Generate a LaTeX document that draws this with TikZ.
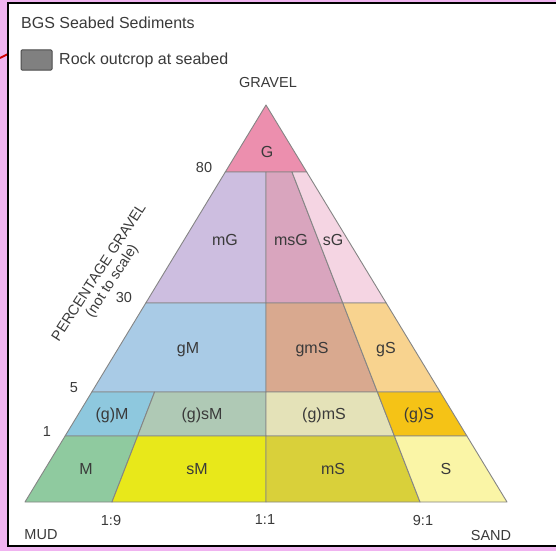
\documentclass[tikz,border=0pt]{standalone}
\usepackage{fontspec}
\setmainfont{Liberation Sans}

\definecolor{mappink}{HTML}{F0B4F0}
\definecolor{inkgray}{HTML}{3A3A3A}
\definecolor{edgegray}{HTML}{858585}
\definecolor{rockgray}{HTML}{808080}
\definecolor{cG}{HTML}{EC8FAE}
\definecolor{cmG}{HTML}{CDBEE0}
\definecolor{cmsG}{HTML}{D9A5BE}
\definecolor{csG}{HTML}{F5D5E3}
\definecolor{cgM}{HTML}{A9CBE6}
\definecolor{cgmS}{HTML}{D9A98F}
\definecolor{cgS}{HTML}{F8D38F}
\definecolor{cpgM}{HTML}{8EC8DE}
\definecolor{cpgsM}{HTML}{AFC9B5}
\definecolor{cpgmS}{HTML}{E4E2B8}
\definecolor{cpgS}{HTML}{F5C316}
\definecolor{cM}{HTML}{8FCA9F}
\definecolor{csM}{HTML}{E8E81A}
\definecolor{cmS}{HTML}{D9D03A}
\definecolor{cS}{HTML}{FAF5A6}

\tikzset{
  zone/.style={draw=edgegray, line width=0.9pt, line join=round},
  zonelabel/.style={text=inkgray, font=\fontsize{16}{18}\selectfont, inner sep=0pt},
  axislabel/.style={text=inkgray, font=\fontsize{14.5}{16}\selectfont, inner sep=0pt},
}

\begin{document}
\begin{tikzpicture}[x=1pt, y=-1pt]
	\useasboundingbox (0,0) rectangle (556,551);
	% map behind the legend panel
	\fill[mappink] (0,0) rectangle (556,551);
	\draw[red!80!black, line width=2pt] (0,58) -- (8,54);
	\fill[white] (8,3) rectangle (556,546);
	\draw[black, line width=1.5pt] (556,3) -- (8,3) -- (8,546) -- (556,546);

	% legend
	\node[anchor=west, text=inkgray, font=\fontsize{16}{18}\selectfont, inner sep=0pt] (title) at (21,23) {BGS Seabed Sediments};
	\filldraw[fill=rockgray, draw=black!70, line width=1pt, rounded corners=1pt] (21,50) rectangle (52,70);
	\node[anchor=west, text=inkgray, font=\fontsize{16}{18}\selectfont, inner sep=0pt] (rock) at (59,60) {Rock outcrop at seabed};

	% gravel classes (80 - 30)
	\filldraw[zone, fill=cG] (266,105) -- (225.3,172) -- (306.7,172) -- cycle;
	\filldraw[zone, fill=cmG] (225.3,172) -- (266,172) -- (266,303) -- (145.8,303) -- cycle;
	\filldraw[zone, fill=cmsG] (266,172) -- (292,172) -- (342.8,303) -- (266,303) -- cycle;
	\filldraw[zone, fill=csG] (292,172) -- (306.7,172) -- (386.2,303) -- (342.8,303) -- cycle;

	% gravelly classes (30 - 5)
	\filldraw[zone, fill=cgM] (145.8,303) -- (266,303) -- (266,392) -- (91.8,392) -- cycle;
	\filldraw[zone, fill=cgmS] (266,303) -- (342.8,303) -- (377.4,392) -- (266,392) -- cycle;
	\filldraw[zone, fill=cgS] (342.8,303) -- (386.2,303) -- (440.2,392) -- (377.4,392) -- cycle;

	% slightly gravelly classes (5 - 1)
	\filldraw[zone, fill=cpgM] (91.8,392) -- (154.6,392) -- (137.6,436) -- (65.1,436) -- cycle;
	\filldraw[zone, fill=cpgsM] (154.6,392) -- (266,392) -- (266,436) -- (137.6,436) -- cycle;
	\filldraw[zone, fill=cpgmS] (266,392) -- (377.4,392) -- (394.4,436) -- (266,436) -- cycle;
	\filldraw[zone, fill=cpgS] (377.4,392) -- (440.2,392) -- (466.9,436) -- (394.4,436) -- cycle;

	% gravel free classes (1 - 0)
	\filldraw[zone, fill=cM] (65.1,436) -- (137.6,436) -- (112,502) -- (25,502) -- cycle;
	\filldraw[zone, fill=csM] (137.6,436) -- (266,436) -- (266,502) -- (112,502) -- cycle;
	\filldraw[zone, fill=cmS] (266,436) -- (394.4,436) -- (420,502) -- (266,502) -- cycle;
	\filldraw[zone, fill=cS] (394.4,436) -- (466.9,436) -- (507,502) -- (420,502) -- cycle;

	% class names
	\node[zonelabel] (G) at (267,152) {G};
	\node[zonelabel] (mG) at (225,240) {mG};
	\node[zonelabel] (msG) at (291,240) {msG};
	\node[zonelabel] (sG) at (333,240) {sG};
	\node[zonelabel] (gM) at (188,350) {gM};
	\node[zonelabel] (gmS) at (312,350) {gmS};
	\node[zonelabel] (gS) at (386,350) {gS};
	\node[zonelabel] (pgM) at (112,415) {(g)M};
	\node[zonelabel] (pgsM) at (202,415) {(g)sM};
	\node[zonelabel] (pgmS) at (324,415) {(g)mS};
	\node[zonelabel] (pgS) at (419,415) {(g)S};
	\node[zonelabel] (M) at (86,469) {M};
	\node[zonelabel] (sM) at (197,469) {sM};
	\node[zonelabel] (mS) at (333,469) {mS};
	\node[zonelabel] (S) at (446,469) {S};

	% axes
	\node[axislabel] (gravel) at (268,83) {GRAVEL};
	\node[axislabel] (mud) at (41,535) {MUD};
	\node[axislabel] (sand) at (491,535) {SAND};
	\node[axislabel] (p80) at (204,168) {80};
	\node[axislabel] (p30) at (124,298) {30};
	\node[axislabel] (p5) at (74,388) {5};
	\node[axislabel] (p1) at (47,432) {1};
	\node[axislabel] (r19) at (111,520) {1:9};
	\node[axislabel] (r11) at (265,520) {1:1};
	\node[axislabel] (r91) at (423,520) {9:1};
	\node[axislabel, rotate=57, align=center, font=\fontsize{14.5}{15.5}\selectfont] (pcgravel) at (106,277) {PERCENTAGE GRAVEL\\(not to scale)};
\end{tikzpicture}
\end{document}
